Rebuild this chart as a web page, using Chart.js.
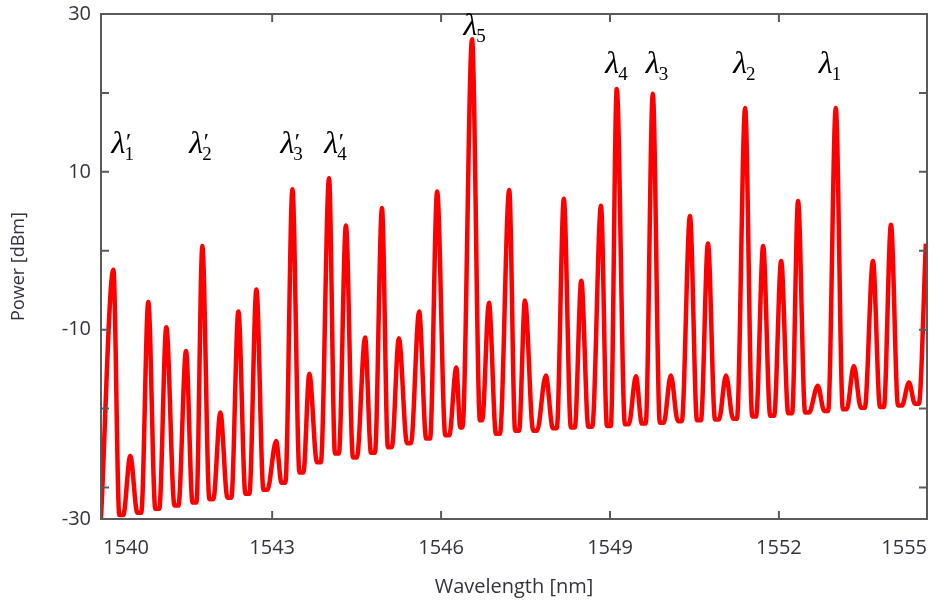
<!DOCTYPE html>
<html>
<head>
<meta charset="utf-8">
<script src="https://cdn.jsdelivr.net/npm/chart.js@4.4.1/dist/chart.umd.min.js"></script>
<style>
  html, body { margin: 0; padding: 0; background: #fff; }
  #wrap { width: 944px; height: 605px; position: relative; }
</style>
</head>
<body>
<div id="wrap"><canvas id="spectrum"></canvas></div>
<script>
/* ── data ──────────────────────────────────────────────────── */

// wavelength of every peak top and trough edge along the trace (nm)
const waveNm = [
  1539.96,
  1540.18, 1540.285, 1540.355,
  1540.48, 1540.605, 1540.675,
  1540.80, 1540.925, 1540.995,
  1541.12, 1541.265, 1541.335,
  1541.47, 1541.585, 1541.655,
  1541.76, 1541.885, 1541.955,
  1542.08, 1542.205, 1542.275,
  1542.40, 1542.525, 1542.595,
  1542.72, 1542.845, 1542.915,
  1543.07, 1543.165, 1543.235,
  1543.36, 1543.485, 1543.555,
  1543.66, 1543.795, 1543.865,
  1544.01, 1544.115, 1544.185,
  1544.31, 1544.435, 1544.505,
  1544.65, 1544.755, 1544.825,
  1544.95, 1545.055, 1545.125,
  1545.25, 1545.395, 1545.465,
  1545.61, 1545.735, 1545.805,
  1545.93, 1546.075, 1546.145,
  1546.27, 1546.34, 1546.38,
  1546.55, 1546.69, 1546.73,
  1546.85, 1546.975, 1547.045,
  1547.21, 1547.315, 1547.385,
  1547.49, 1547.635, 1547.705,
  1547.86, 1547.985, 1548.055,
  1548.18, 1548.305, 1548.375,
  1548.49, 1548.615, 1548.685,
  1548.84, 1548.945, 1549.015,
  1549.12, 1549.265, 1549.335,
  1549.46, 1549.565, 1549.635,
  1549.76, 1549.885, 1549.955,
  1550.08, 1550.205, 1550.275,
  1550.42, 1550.545, 1550.615,
  1550.74, 1550.865, 1550.935,
  1551.06, 1551.185, 1551.255,
  1551.40, 1551.525, 1551.595,
  1551.72, 1551.845, 1551.915,
  1552.04, 1552.165, 1552.235,
  1552.34, 1552.465, 1552.535,
  1552.69, 1552.805, 1552.875,
  1553.01, 1553.135, 1553.205,
  1553.33, 1553.455, 1553.525,
  1553.67, 1553.795, 1553.865,
  1553.99, 1554.115, 1554.185,
  1554.31, 1554.415, 1554.485,
  1554.61
];

// power at those points (dBm)
const powerDbm = [
  -33.9,
   -2.4, -33.5, -33.5,
  -26.0, -33.2, -33.2,
   -6.5, -32.7, -32.7,
   -9.7, -32.3, -32.3,
  -12.7, -31.9, -31.9,
    0.6, -31.5, -31.5,
  -20.5, -31.3, -31.3,
   -7.7, -30.8, -30.8,
   -4.9, -30.3, -30.3,
  -24.1, -29.4, -29.4,
    7.8, -28.1, -28.1,
  -15.6, -26.8, -26.8,
    9.2, -25.7, -25.7,
    3.2, -26.2, -26.2,
  -11.0, -25.6, -25.6,
    5.4, -24.9, -24.9,
  -11.1, -24.4, -24.4,
   -7.7, -23.8, -23.8,
    7.5, -23.4, -23.4,
  -14.8, -22.4, -22.4,
   26.8, -21.5, -21.5,
   -6.6, -23.2, -23.2,
    7.7, -22.8, -22.8,
   -6.3, -22.8, -22.8,
  -15.8, -22.5, -22.5,
    6.6, -22.4, -22.4,
   -3.8, -22.3, -22.3,
    5.7, -22.2, -22.2,
   20.5, -22.0, -22.0,
  -15.9, -21.9, -21.9,
   19.9, -21.8, -21.8,
  -15.8, -21.6, -21.6,
    4.4, -21.5, -21.5,
    0.9, -21.4, -21.4,
  -15.8, -21.3, -21.3,
   18.1, -21.0, -21.0,
    0.6, -20.9, -20.9,
   -1.3, -20.6, -20.6,
    6.3, -20.5, -20.5,
  -17.1, -20.3, -20.3,
   18.1, -20.1, -20.1,
  -14.6, -19.9, -19.9,
   -1.3, -19.8, -19.8,
    3.3, -19.6, -19.6,
  -16.7, -19.4, -19.4,
    0.9
];

// axis ticks as printed in the figure
const xTickValues = [1540, 1543, 1546, 1549, 1552, 1554.63];
const xTickLabels = ["1540", "1543", "1546", "1549", "1552", "1555"];
const yTickValues = [-34, -30, -20, -10, 0, 10, 20, 30];
const yTickLabels = ["-30", "", "", "-10", "", "10", "", "30"];
const xMarks = [1543, 1546, 1549, 1552];
const yMarks = [-30, -20, -10, 0, 10, 20];

// channel labels above the peaks
const tagSub   = ["1", "2", "3", "4", "5", "4", "3", "2", "1"];
const tagPrime = [true, true, true, true, false, false, false, false, false];
const tagWave  = [1540.27, 1541.65, 1543.27, 1544.05, 1546.52, 1549.04, 1549.76, 1551.31, 1552.83];
const tagPower = [12.4, 12.4, 12.4, 12.4, 27.3, 22.5, 22.5, 22.5, 22.5];

/* ── frame, inward ticks and λ labels ──────────────────────── */
const framePlugin = {
  id: "frame",
  afterDraw(chart) {
    const { ctx, chartArea: a, scales: { x, y } } = chart;
    ctx.save();
    ctx.strokeStyle = "#5a5a5a";
    ctx.lineWidth = 2;
    ctx.strokeRect(a.left, a.top, a.right - a.left, a.bottom - a.top);
    ctx.beginPath();
    xMarks.forEach((v) => {
      const px = x.getPixelForValue(v);
      ctx.moveTo(px, a.bottom); ctx.lineTo(px, a.bottom - 8);
      ctx.moveTo(px, a.top);    ctx.lineTo(px, a.top + 8);
    });
    yMarks.forEach((v) => {
      const py = y.getPixelForValue(v);
      ctx.moveTo(a.left, py);  ctx.lineTo(a.left + 8, py);
      ctx.moveTo(a.right, py); ctx.lineTo(a.right - 8, py);
    });
    ctx.stroke();

    ctx.fillStyle = "#000";
    ctx.textBaseline = "alphabetic";
    tagSub.forEach((s, i) => {
      const px = x.getPixelForValue(tagWave[i]);
      const py = y.getPixelForValue(tagPower[i]);
      ctx.font = "italic 32px 'Liberation Serif', serif";
      ctx.textAlign = "center";
      ctx.fillText("λ", px, py);
      ctx.textAlign = "left";
      ctx.font = "19px 'Liberation Serif', serif";
      ctx.fillText(s, px + 6, py + 7);
      if (tagPrime[i]) {
        ctx.font = "italic 24px 'Liberation Serif', serif";
        ctx.fillText("′", px + 6, py - 4);
      }
    });
    ctx.restore();
  },
};

const axisFont = { family: "'Open Sans', sans-serif", size: 20 };
const axisColor = "#33333f";

new Chart(document.getElementById("spectrum"), {
  type: "line",
  data: {
    datasets: [{
      data: waveNm.map((w, i) => ({ x: w, y: powerDbm[i] })),
      borderColor: "#ff0000",
      borderWidth: 4.5,
      pointRadius: 0,
      cubicInterpolationMode: "monotone",
      fill: false,
    }],
  },
  options: {
    responsive: true,
    maintainAspectRatio: false,
    animation: false,
    layout: { padding: { top: 14, right: 17, left: 0, bottom: 0 } },
    plugins: { legend: { display: false }, tooltip: { enabled: false } },
    scales: {
      x: {
        type: "linear",
        min: 1539.96,
        max: 1554.63,
        grid: { display: false, drawTicks: false },
        border: { display: false },
        afterBuildTicks: (s) => { s.ticks = xTickValues.map((v) => ({ value: v })); },
        afterFit: (s) => { s.height = 86; s.paddingLeft = 0; s.paddingRight = 0; },
        ticks: {
          align: "inner",
          padding: 17,
          font: axisFont,
          color: axisColor,
          maxRotation: 0,
          callback: (v) => xTickLabels[xTickValues.indexOf(v)],
        },
        title: { display: true, text: "Wavelength [nm]", font: axisFont, color: axisColor, padding: { top: 4, bottom: 6 } },
      },
      y: {
        min: -34,
        max: 30,
        grid: { display: false, drawTicks: false },
        border: { display: false },
        afterBuildTicks: (s) => { s.ticks = yTickValues.map((v) => ({ value: v })); },
        afterFit: (s) => { s.width = 101; s.paddingTop = 0; s.paddingBottom = 0; },
        ticks: {
          padding: 10,
          font: axisFont,
          color: axisColor,
          callback: (v) => yTickLabels[yTickValues.indexOf(v)],
        },
        title: { display: true, text: "Power [dBm]", font: { family: "'Open Sans', sans-serif", size: 18 }, color: axisColor, padding: { top: 8, bottom: 4 } },
      },
    },
  },
  plugins: [framePlugin],
});
</script>
</body>
</html>
